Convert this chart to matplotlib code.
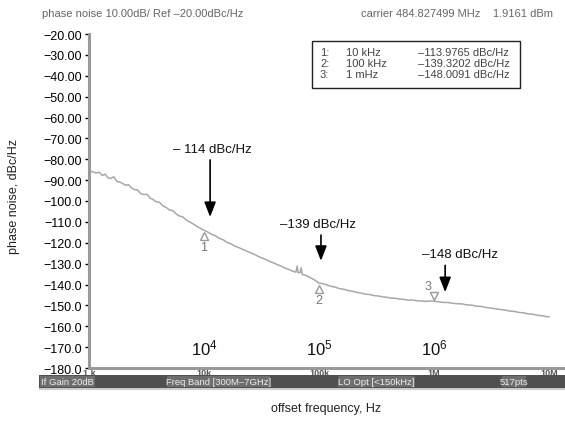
import numpy as np
import matplotlib
matplotlib.use('Agg')
import matplotlib.pyplot as plt
from matplotlib.patches import Rectangle
import matplotlib.transforms as mtransforms

plt.rcParams['font.family'] = ['Liberation Sans', 'DejaVu Sans']
plt.rcParams['mathtext.fontset'] = 'custom'
plt.rcParams['mathtext.rm'] = 'Liberation Sans'

# trace data (offset frequency in Hz, phase noise in dBc/Hz)
freq_hz = [1000, 1080, 1150, 1230, 1300, 1380, 1460, 1550, 1640, 1750, 1850, 1960,
           2080, 2200, 2350, 2500, 2650, 2800, 3000, 3200, 3400, 3600, 3850, 4100,
           4400, 4700, 5000, 5350, 5700, 6100, 6500, 7000, 7500, 8000, 8600, 9300,
           10000, 10800, 11700, 12600, 13600, 14700, 15800, 17100, 18500, 20000,
           21800, 23700, 25800, 28000, 30500, 33200, 36100, 39200, 42700, 46400,
           50400, 54800, 59600, 63000, 64500, 66000, 68500, 70000, 71500, 76600,
           83300, 90600, 100000, 108000, 118000, 128000, 139000, 151000, 165000,
           180000, 195000, 213000, 232000, 252000, 275000, 300000, 326000, 355000,
           387000, 422000, 460000, 500000, 545000, 595000, 650000, 710000, 775000,
           845000, 920000, 1000000, 1100000, 1200000, 1320000, 1450000, 1600000,
           1760000, 1940000, 2130000, 2340000, 2570000, 2830000, 3110000, 3420000,
           3760000, 4130000, 4540000, 5000000, 5500000, 6050000, 6650000, 7300000,
           8050000, 8850000, 9700000, 10000000]
noise_dbc = [-85.8, -86.0, -86.6, -86.2, -87.8, -87.1, -88.9, -89.2, -88.4, -90.6, -90.9, -91.6,
             -92.5, -92.1, -93.8, -94.6, -94.7, -96.4, -96.9, -96.8, -98.6, -99.3, -100.4, -100.6,
             -102.4, -103.1, -104.3, -104.6, -106.1, -107.2, -107.5, -109.1, -110.0, -110.9, -112.0, -113.1,
             -114.0, -114.9, -116.0, -116.7, -117.9, -118.6, -119.8, -120.5, -121.6, -122.3,
             -123.2, -124.1, -125.0, -125.8, -126.9, -127.6, -128.6, -129.4, -130.3, -131.1,
             -132.1, -132.8, -133.7, -134.1, -131.2, -134.4, -134.3, -132.0, -135.2, -135.6,
             -136.6, -137.7, -139.3, -139.6, -140.3, -140.9, -141.3, -142.0, -142.3,
             -142.9, -143.2, -143.8, -144.1, -144.6, -144.8, -145.3, -145.5, -145.9,
             -146.1, -146.5, -146.6, -147.0, -147.1, -147.5, -147.4, -147.8, -147.9,
             -148.1, -147.9, -148.0, -148.3, -148.6, -148.6, -149.0, -149.2,
             -149.3, -149.8, -149.9, -150.4, -150.5, -151.0, -151.3, -151.6,
             -152.0, -152.2, -152.7, -152.9, -153.4, -153.6, -154.1, -154.3,
             -154.8, -155.0, -155.5, -155.4]

# markers
marker_freq = [1e4, 1e5, 1e6]
marker_val = [-113.9765, -139.3202, -148.0091]
marker_names = ['1', '2', '3']
marker_freq_txt = ['10 kHz', '100 kHz', '1 mHz']

# annotations
note_text = ['\u2013 114 dBc/Hz', '\u2013139 dBc/Hz', '\u2013148 dBc/Hz']
note_text_pos = [(11800, -75), (98000, -111), (1.68e6, -125.5)]
note_arrow_tip = [(11300, -109), (104000, -130), (1.25e6, -145)]

yticks = list(range(-20, -181, -10))
ytick_labels = ['\u2212%.2f' % abs(v) if abs(v) < 100 else '\u2212%.1f' % abs(v) for v in yticks]
xticks = [1e3, 1e4, 1e5, 1e6, 1e7]
xtick_labels = ['1 k', '10k', '100k', '1M', '10M']
decade_labels = [(1e4, r'$\mathregular{10^4}$'), (1e5, r'$\mathregular{10^5}$'), (1e6, r'$\mathregular{10^6}$')]

W, H = 565, 427
fig = plt.figure(figsize=(5.65, 4.27), dpi=100)

def fx(px):
    return px / W

def fy(py):
    return 1 - py / H

ax_left, ax_top, ax_bot = 89, 35, 369
ax = fig.add_axes([fx(ax_left), fy(ax_bot), 1 - fx(ax_left), (ax_bot - ax_top) / H])
ax.set_xscale('log')
ax.set_xlim(1e3, 10 ** (3 + (W - ax_left) / 115.0))
ax.set_ylim(-180, -20)

ax.plot(freq_hz, noise_dbc, color='#a8a8a8', lw=1.1)

# marker triangles
for f, v, name in zip(marker_freq, marker_val, marker_names):
    if name == '3':
        tr = mtransforms.offset_copy(ax.transData, fig=fig, x=0, y=5, units='dots')
        ax.plot([f], [v], marker='v', ms=6, mfc='white', mec='#999999', mew=1.0, transform=tr)
        tr2 = mtransforms.offset_copy(ax.transData, fig=fig, x=-6, y=15, units='dots')
        ax.text(f, v, name, transform=tr2, fontsize=9, color='#777777', ha='center', va='center')
    else:
        tr = mtransforms.offset_copy(ax.transData, fig=fig, x=0, y=-6, units='dots')
        ax.plot([f], [v], marker='^', ms=6, mfc='white', mec='#999999', mew=1.0, transform=tr)
        tr2 = mtransforms.offset_copy(ax.transData, fig=fig, x=0, y=-17, units='dots')
        ax.text(f, v, name, transform=tr2, fontsize=9, color='#777777', ha='center', va='center')

for txt, tp, tip in zip(note_text, note_text_pos, note_arrow_tip):
    ax.text(tp[0], tp[1], txt, fontsize=9.5, ha='center', va='center', color='#111111')
    ax.annotate('', xy=tip, xytext=(tip[0], tp[1] - 4),
                arrowprops=dict(arrowstyle='-|>,head_width=0.35,head_length=0.9',
                                color='black', lw=1.2))

for f, lab in decade_labels:
    ax.text(f, -170, lab, fontsize=12, ha='center', va='center', color='#111111')

for s in ['top', 'right']:
    ax.spines[s].set_visible(False)
ax.spines['left'].set_color('#999999')
ax.spines['left'].set_linewidth(2.2)
ax.spines['bottom'].set_color('#999999')
ax.spines['bottom'].set_linewidth(2.2)

ax.set_yticks(yticks)
ax.set_yticklabels(ytick_labels, fontsize=9)
ax.tick_params(axis='y', length=3, width=1, color='black', pad=2)
ax.set_xticks(xticks)
ax.set_xticklabels(xtick_labels, fontsize=6.5, fontweight='bold', color='#555555')
ax.tick_params(axis='x', which='both', length=0, pad=0)
ax.xaxis.set_minor_locator(matplotlib.ticker.NullLocator())

# marker table
box = Rectangle((fx(312), fy(89)), fx(520 - 312), (89 - 42) / H, transform=fig.transFigure,
                fill=False, edgecolor='#222222', lw=1.0)
fig.patches.append(box)
for i, (n, ft, v) in enumerate(zip(marker_names, marker_freq_txt, marker_val)):
    yy = fy(53 + i * 11)
    fig.text(fx(320), yy, n + ':', fontsize=8, color='#444444', va='center')
    fig.text(fx(346), yy, ft, fontsize=8, color='#444444', va='center')
    fig.text(fx(418), yy, '\u2013%.4f dBc/Hz' % abs(v), fontsize=8, color='#444444', va='center')

# header
fig.text(fx(42), fy(14), 'phase noise 10.00dB/ Ref \u201320.00dBc/Hz', fontsize=8, color='#666666', va='center')
fig.text(fx(553), fy(14), 'carrier 484.827499 MHz    1.9161 dBm', fontsize=8, color='#666666',
         va='center', ha='right')

# status bar
bar_top, bar_bot = 376, 389
fig.patches.append(Rectangle((fx(39), fy(bar_bot)), 1 - fx(39), (bar_bot - bar_top) / H,
                             transform=fig.transFigure, color='#505050', lw=0))
fig.patches.append(Rectangle((fx(39), fy(bar_bot + 2)), 1 - fx(39), 2 / H,
                             transform=fig.transFigure, color='#cccccc', lw=0))
status = [(40, 95, 'If Gain 20dB'), (167, 270, 'Freq Band [300M\u20137GHz]'),
          (338, 415, 'LO Opt [<150kHz]'), (502, 526, '517pts')]
for x0, x1, t in status:
    fig.patches.append(Rectangle((fx(x0), fy(bar_bot - 1)), fx(x1 - x0), (bar_bot - bar_top - 2) / H,
                                 transform=fig.transFigure, color='#6e6e6e', lw=0))
    fig.text(fx((x0 + x1) / 2), fy((bar_top + bar_bot) / 2), t, fontsize=6.8, color='#eeeeee',
             ha='center', va='center')

fig.text(fx(326), fy(409), 'offset frequency, Hz', fontsize=9, ha='center', va='center', color='#222222')
fig.text(fx(14), fy(197), 'phase noise, dBc/Hz', fontsize=9, rotation=90, ha='center', va='center',
         color='#222222')

fig.savefig('out.png', dpi=100)
